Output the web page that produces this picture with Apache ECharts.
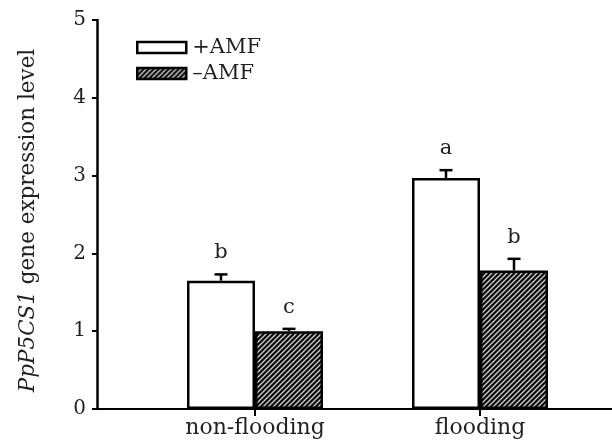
<!DOCTYPE html>
<html>
<head>
<meta charset="utf-8">
<script src="https://cdn.jsdelivr.net/npm/echarts@6/dist/echarts.min.js"></script>
<style>html,body{margin:0;padding:0;background:#fff}#c{width:612px;height:445px}</style>
</head>
<body>
<div id="c"></div>
<script>
const categories = ['non-flooding', 'flooding'];
const seriesNames = ['+AMF', '–AMF'];
const plusAMF = [1.65, 2.97];
const minusAMF = [1.00, 1.78];
const plusAMFErr = [0.08, 0.10];
const minusAMFErr = [0.03, 0.15];
const plusAMFLetters = ['b', 'a'];
const minusAMFLetters = ['c', 'b'];
const yTicks = [0, 1, 2, 3, 4, 5];

const FONT = '"DejaVu Serif", serif';
const TXT = '#231f20';

// hatch pattern
const pc = document.createElement('canvas');
const S = 5;
pc.width = S; pc.height = S;
const g = pc.getContext('2d');
g.fillStyle = '#0a0a0a';
g.fillRect(0, 0, S, S);
g.strokeStyle = '#cfcfcf';
g.lineWidth = 1.3;
g.beginPath();
g.moveTo(-1, S + 1); g.lineTo(S + 1, -1);
g.moveTo(-1, 1); g.lineTo(1, -1);
g.moveTo(S - 1, S + 1); g.lineTo(S + 1, S - 1);
g.stroke();
const hatch = { image: pc, repeat: 'repeat' };

const errData = [];
categories.forEach((c, i) => {
  errData.push([i, plusAMF[i], plusAMFErr[i], 0, plusAMFLetters[i]]);
  errData.push([i, minusAMF[i], minusAMFErr[i], 1, minusAMFLetters[i]]);
});

const BAR_W = 68;

const chart = echarts.init(document.getElementById('c'), null, { renderer: 'canvas' });
chart.setOption({
  animation: false,
  backgroundColor: '#fff',
  grid: [
    { left: 97, right: 0, top: 20, bottom: 36 },
    { left: 142.5, right: 19.5, top: 20, bottom: 36 }
  ],
  legend: {
    data: seriesNames,
    orient: 'vertical',
    left: 131,
    top: 32,
    itemWidth: 49,
    itemHeight: 11,
    itemGap: 5,
    icon: 'rect',
    itemStyle: { borderWidth: 2.5 },
    textStyle: { fontFamily: FONT, fontSize: 21, color: TXT, lineHeight: 21, padding: [0, 0, 0, 1] }
  },
  xAxis: [
    { gridIndex: 0, type: 'value', min: 0, max: 1,
      axisLine: { show: true, lineStyle: { color: '#000', width: 2 } },
      axisTick: { show: false }, axisLabel: { show: false }, splitLine: { show: false } },
    { gridIndex: 1, type: 'category', data: categories, boundaryGap: true,
      axisLine: { show: false },
      axisTick: { show: true, alignWithLabel: true, length: 7, lineStyle: { color: '#000', width: 2 } },
      axisLabel: { fontFamily: FONT, fontSize: 22, color: TXT, margin: 8 },
      splitLine: { show: false } }
  ],
  yAxis: [
    { gridIndex: 0, type: 'value', min: 0, max: 5, interval: 1,
      axisLine: { show: true, lineStyle: { color: '#000', width: 2.5 } },
      axisTick: { show: true, inside: false, length: 5, lineStyle: { color: '#000', width: 2 } },
      axisLabel: { fontFamily: FONT, fontSize: 20, color: TXT, margin: 11,
        customValues: yTicks },
      splitLine: { show: false },
      name: '{i|PpP5CS1} gene expression level',
      nameLocation: 'middle',
      nameGap: 58,
      nameRotate: 90,
      nameTextStyle: { fontFamily: FONT, fontSize: 21.5, color: TXT, padding: [0, 12, 0, 0],
        rich: { i: { fontFamily: FONT, fontSize: 21.5, fontStyle: 'italic', color: TXT } } }
    },
    { gridIndex: 1, type: 'value', min: 0, max: 5, interval: 1, show: false }
  ],
  series: [
    { name: seriesNames[0], type: 'bar', xAxisIndex: 1, yAxisIndex: 1,
      data: plusAMF, barWidth: BAR_W, barGap: '0%',
      itemStyle: { color: '#fff', borderColor: '#000', borderWidth: 2.5 } },
    { name: seriesNames[1], type: 'bar', xAxisIndex: 1, yAxisIndex: 1,
      data: minusAMF, barWidth: BAR_W, barGap: '0%',
      itemStyle: { color: hatch, borderColor: '#000', borderWidth: 2.5 } },
    { type: 'custom', xAxisIndex: 1, yAxisIndex: 1, data: errData, z: 5, clip: false,
      renderItem: function (params, api) {
        const ci = api.value(0), v = api.value(1), e = api.value(2), s = api.value(3);
        const letter = errData[params.dataIndex][4];
        const base = api.coord([ci, v]);
        const top = api.coord([ci, v + e]);
        const off = (s === 0 ? -1 : 1) * BAR_W / 2;
        const x = base[0] + off;
        return {
          type: 'group',
          children: [
            { type: 'line', shape: { x1: x, y1: base[1], x2: x, y2: top[1] },
              style: { stroke: '#000', lineWidth: 2.5 } },
            { type: 'line', shape: { x1: x - 6.5, y1: top[1], x2: x + 6.5, y2: top[1] },
              style: { stroke: '#000', lineWidth: 2.5 } },
            { type: 'text', x: x, y: top[1] - 11,
              style: { text: letter, font: '21px ' + FONT, fill: TXT, align: 'center', verticalAlign: 'bottom' } }
          ]
        };
      }
    }
  ]
});
</script>
</body>
</html>
